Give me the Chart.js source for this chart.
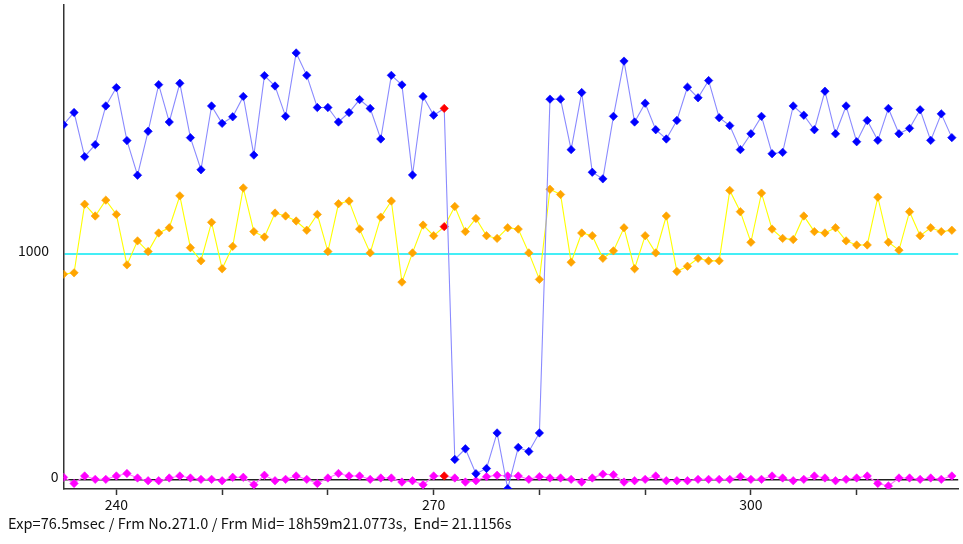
<!DOCTYPE html>
<html>
<head>
<meta charset="utf-8">
<script src="https://cdn.jsdelivr.net/npm/chart.js@4.4.1/dist/chart.umd.min.js"></script>
<style>
  html, body { margin: 0; padding: 0; background: #fff; }
  #wrap { position: absolute; left: 0; top: 0; width: 963px; height: 544px; }
  #info { position: absolute; left: 8px; top: 512px; font: 14.5px "Noto Sans CJK JP", "Noto Sans", sans-serif; letter-spacing: 0.1px; color: #111; white-space: pre; }
</style>
</head>
<body>
<div id="wrap"><canvas id="c" width="963" height="544"></canvas></div>
<div id="info">Exp=76.5msec / Frm No.271.0 / Frm Mid= 18h59m21.0773s,  End= 21.1156s</div>
<script>
const frames = [235,236,237,238,239,240,241,242,243,244,245,246,247,248,249,250,251,252,
  253,254,255,256,257,258,259,260,261,262,263,264,265,266,267,268,269,270,271,272,273,274,275,
  276,277,278,279,280,281,282,283,284,285,286,287,288,289,290,291,292,293,294,295,296,297,298,
  299,300,301,302,303,304,305,306,307,308,309,310,311,312,313,314,315,316,317,318,319];

const blueValues = [1569,1623,1428,1481,1652,1733,1499,1346,1540,1746,1581,1752,1512,1370,1652,1575,1604,1694,
  1435,1786,1740,1606,1886,1787,1645,1645,1581,1623,1680,1641,1506,1787,1745,1347,1694,1611,1641,91,138,28,51,
  208,-38,144,126,208,1682,1682,1459,1711,1359,1330,1606,1850,1581,1664,1547,1506,1588,1735,1688,1764,1600,1565,
  1459,1529,1606,1441,1447,1652,1611,1547,1717,1529,1652,1494,1588,1500,1641,1529,1553,1635,1500,1617,1512];

const orangeValues = [909,915,1218,1166,1236,1173,950,1056,1009,1091,1114,1255,1026,968,1138,933,1032,1290,
  1097,1073,1179,1166,1144,1103,1173,1009,1220,1232,1108,1003,1161,1232,874,1003,1126,1079,1119,1208,1097,1155,1079,
  1067,1114,1108,1003,886,1284,1261,962,1091,1079,979,1012,1114,933,1079,1003,1166,921,944,979,968,968,1279,
  1185,1050,1267,1108,1067,1062,1166,1097,1091,1114,1056,1038,1038,1249,1050,1015,1185,1079,1114,1097,1103];

const magentaValues = [12,-15,18,3,3,18,29,9,-3,-3,9,18,9,3,3,-3,12,12,
  -21,21,-3,3,18,3,-15,9,29,18,18,3,9,9,-9,-3,-21,18,18,9,-9,-3,15,
  21,18,18,3,15,9,9,3,-9,9,26,23,-9,-3,3,18,-3,-3,-3,3,3,3,3,
  15,3,3,18,9,-3,3,18,9,-3,3,9,18,-15,-26,9,9,3,9,3,18];

const highlightFrame = 271;
const yTicks = [0, 1000];
const xTicks = [240, 250, 260, 270, 280, 290, 300, 310];
const xLabelTicks = [240, 270, 300];

const FONT = '"Noto Sans CJK JP", "Noto Sans", sans-serif';

function mkData(vals) {
  return frames.map((f, i) => ({ x: f, y: vals[i] }));
}
function series(label, vals, lineColor, pointColor) {
  return {
    label,
    data: mkData(vals),
    borderColor: lineColor,
    borderWidth: 1.1,
    pointStyle: 'rectRot',
    pointRadius: 4.2,
    pointBorderWidth: 0.6,
    pointBackgroundColor: c => (frames[c.dataIndex] === highlightFrame ? '#ff0000' : pointColor),
    pointBorderColor: c => (frames[c.dataIndex] === highlightFrame ? '#ff0000' : pointColor),
    tension: 0,
    fill: false
  };
}

new Chart(document.getElementById('c'), {
  type: 'line',
  data: {
    datasets: [
      series('blue', blueValues, '#8a8aff', '#0000ff'),
      series('orange', orangeValues, '#ffff00', '#ffa500'),
      series('magenta', magentaValues, '#ff70ff', '#ff00ff')
    ]
  },
  options: {
    responsive: false,
    animation: false,
    devicePixelRatio: 1,
    layout: { padding: { top: 3, right: 1, left: 0, bottom: 0 } },
    plugins: { legend: { display: false }, tooltip: { enabled: false } },
    scales: {
      x: {
        type: 'linear',
        min: 235,
        max: 319.6,
        afterBuildTicks: s => { s.ticks = xTicks.map(v => ({ value: v })); },
        afterFit: s => { s.height = 55; s.paddingLeft = 0; s.paddingRight = 0; },
        border: { display: true, color: '#333', width: 1.5 },
        grid: { drawOnChartArea: false, drawTicks: true, tickLength: 6, tickColor: '#333', tickWidth: 1.5 },
        ticks: {
          autoSkip: false,
          maxRotation: 0,
          padding: 1,
          color: '#111',
          font: { family: FONT, size: 14 },
          callback: v => (xLabelTicks.includes(v) ? String(v) : '')
        }
      },
      y: {
        type: 'linear',
        min: -39.6,
        max: 2098.6,
        afterBuildTicks: s => { s.ticks = yTicks.map(v => ({ value: v })); },
        afterFit: s => { s.width = 63.5; s.paddingTop = 0; s.paddingBottom = 0; },
        border: { display: true, color: '#333', width: 1.5 },
        grid: {
          drawTicks: false,
          color: c => (c.tick && c.tick.value === 1000 ? '#44eef6' : '#222'),
          lineWidth: c => (c.tick && c.tick.value === 1000 ? 2 : 1.5)
        },
        ticks: {
          padding: 5,
          labelOffset: -3,
          color: '#111',
          font: { family: FONT, size: 14 },
          callback: v => (v === 1000 ? '1000   ' : String(v))
        }
      }
    }
  }
});
</script>
</body>
</html>
